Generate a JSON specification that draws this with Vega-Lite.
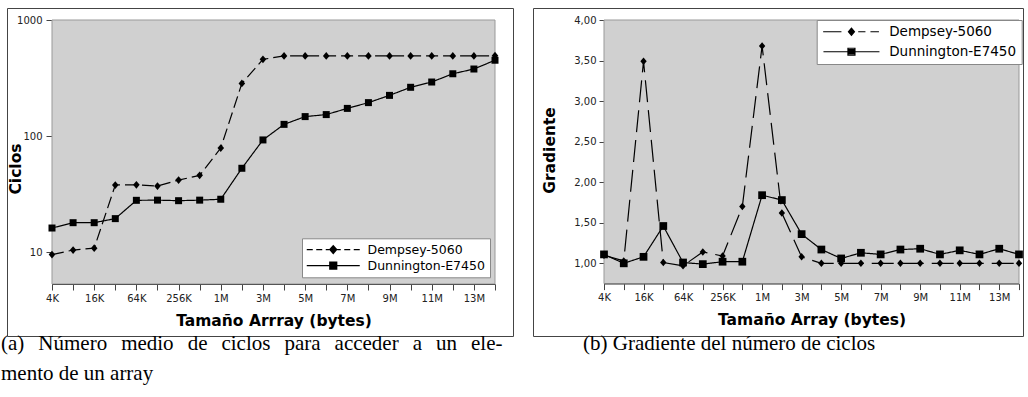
{
  "$schema": "https://vega.github.io/schema/vega-lite/v6.json",
  "background": "white",
  "padding": {"left": 0, "top": 7, "right": 0, "bottom": 0},
  "bounds": "flush",
  "spacing": 20,
  "resolve": {"scale": {"shape": "independent"}, "legend": {"shape": "independent"}},
  "config": {
    "view": {"stroke": "#444", "strokeWidth": 1, "fill": "white"},
    "axis": {
      "grid": false,
      "labelFont": "DejaVu Sans",
      "labelFontSize": 10,
      "labelColor": "#222",
      "tickColor": "#444",
      "domainColor": "#555",
      "titleFont": "DejaVu Sans",
      "titleFontWeight": "bold",
      "titleFontSize": 15.5,
      "titleColor": "black"
    },
    "legend": {"labelFont": "DejaVu Sans", "labelFontSize": 12.5, "labelColor": "black", "symbolStrokeColor": "black", "symbolStrokeWidth": 1.2, "symbolOpacity": 1},
    "title": {"font": "Liberation Serif", "fontSize": 21, "fontWeight": "normal", "color": "black"}
  },
  "datasets": {
    "ciclos": [
      {"size": "4K", "serie": "Dempsey-5060", "v": 9.5},
      {"size": "8K", "serie": "Dempsey-5060", "v": 10.4},
      {"size": "16K", "serie": "Dempsey-5060", "v": 10.8},
      {"size": "32K", "serie": "Dempsey-5060", "v": 37.8},
      {"size": "64K", "serie": "Dempsey-5060", "v": 38},
      {"size": "128K", "serie": "Dempsey-5060", "v": 37},
      {"size": "256K", "serie": "Dempsey-5060", "v": 41.7},
      {"size": "512K", "serie": "Dempsey-5060", "v": 45.8},
      {"size": "1M", "serie": "Dempsey-5060", "v": 78.8},
      {"size": "2M", "serie": "Dempsey-5060", "v": 284},
      {"size": "3M", "serie": "Dempsey-5060", "v": 458},
      {"size": "4M", "serie": "Dempsey-5060", "v": 490},
      {"size": "5M", "serie": "Dempsey-5060", "v": 490},
      {"size": "6M", "serie": "Dempsey-5060", "v": 490},
      {"size": "7M", "serie": "Dempsey-5060", "v": 490},
      {"size": "8M", "serie": "Dempsey-5060", "v": 490},
      {"size": "9M", "serie": "Dempsey-5060", "v": 490},
      {"size": "10M", "serie": "Dempsey-5060", "v": 490},
      {"size": "11M", "serie": "Dempsey-5060", "v": 490},
      {"size": "12M", "serie": "Dempsey-5060", "v": 490},
      {"size": "13M", "serie": "Dempsey-5060", "v": 490},
      {"size": "14M", "serie": "Dempsey-5060", "v": 492},
      {"size": "4K", "serie": "Dunnington-E7450", "v": 16.1},
      {"size": "8K", "serie": "Dunnington-E7450", "v": 17.9},
      {"size": "16K", "serie": "Dunnington-E7450", "v": 17.9},
      {"size": "32K", "serie": "Dunnington-E7450", "v": 19.4},
      {"size": "64K", "serie": "Dunnington-E7450", "v": 27.9},
      {"size": "128K", "serie": "Dunnington-E7450", "v": 28},
      {"size": "256K", "serie": "Dunnington-E7450", "v": 27.7},
      {"size": "512K", "serie": "Dunnington-E7450", "v": 28},
      {"size": "1M", "serie": "Dunnington-E7450", "v": 28.5},
      {"size": "2M", "serie": "Dunnington-E7450", "v": 52.7},
      {"size": "3M", "serie": "Dunnington-E7450", "v": 92.5},
      {"size": "4M", "serie": "Dunnington-E7450", "v": 126},
      {"size": "5M", "serie": "Dunnington-E7450", "v": 147},
      {"size": "6M", "serie": "Dunnington-E7450", "v": 153},
      {"size": "7M", "serie": "Dunnington-E7450", "v": 173},
      {"size": "8M", "serie": "Dunnington-E7450", "v": 194},
      {"size": "9M", "serie": "Dunnington-E7450", "v": 224},
      {"size": "10M", "serie": "Dunnington-E7450", "v": 263},
      {"size": "11M", "serie": "Dunnington-E7450", "v": 292},
      {"size": "12M", "serie": "Dunnington-E7450", "v": 344},
      {"size": "13M", "serie": "Dunnington-E7450", "v": 378},
      {"size": "14M", "serie": "Dunnington-E7450", "v": 450}
    ],
    "gradiente": [
      {"size": "4K", "serie": "Dempsey-5060", "v": 1.10},
      {"size": "8K", "serie": "Dempsey-5060", "v": 1.03},
      {"size": "16K", "serie": "Dempsey-5060", "v": 3.49},
      {"size": "32K", "serie": "Dempsey-5060", "v": 1.01},
      {"size": "64K", "serie": "Dempsey-5060", "v": 0.97},
      {"size": "128K", "serie": "Dempsey-5060", "v": 1.14},
      {"size": "256K", "serie": "Dempsey-5060", "v": 1.09},
      {"size": "512K", "serie": "Dempsey-5060", "v": 1.70},
      {"size": "1M", "serie": "Dempsey-5060", "v": 3.68},
      {"size": "2M", "serie": "Dempsey-5060", "v": 1.62},
      {"size": "3M", "serie": "Dempsey-5060", "v": 1.08},
      {"size": "4M", "serie": "Dempsey-5060", "v": 1.00},
      {"size": "5M", "serie": "Dempsey-5060", "v": 1.00},
      {"size": "6M", "serie": "Dempsey-5060", "v": 1.00},
      {"size": "7M", "serie": "Dempsey-5060", "v": 1.00},
      {"size": "8M", "serie": "Dempsey-5060", "v": 1.00},
      {"size": "9M", "serie": "Dempsey-5060", "v": 1.00},
      {"size": "10M", "serie": "Dempsey-5060", "v": 1.00},
      {"size": "11M", "serie": "Dempsey-5060", "v": 1.00},
      {"size": "12M", "serie": "Dempsey-5060", "v": 1.00},
      {"size": "13M", "serie": "Dempsey-5060", "v": 1.00},
      {"size": "14M", "serie": "Dempsey-5060", "v": 1.00},
      {"size": "4K", "serie": "Dunnington-E7450", "v": 1.11},
      {"size": "8K", "serie": "Dunnington-E7450", "v": 1.00},
      {"size": "16K", "serie": "Dunnington-E7450", "v": 1.08},
      {"size": "32K", "serie": "Dunnington-E7450", "v": 1.46},
      {"size": "64K", "serie": "Dunnington-E7450", "v": 1.01},
      {"size": "128K", "serie": "Dunnington-E7450", "v": 0.99},
      {"size": "256K", "serie": "Dunnington-E7450", "v": 1.02},
      {"size": "512K", "serie": "Dunnington-E7450", "v": 1.02},
      {"size": "1M", "serie": "Dunnington-E7450", "v": 1.84},
      {"size": "2M", "serie": "Dunnington-E7450", "v": 1.78},
      {"size": "3M", "serie": "Dunnington-E7450", "v": 1.36},
      {"size": "4M", "serie": "Dunnington-E7450", "v": 1.17},
      {"size": "5M", "serie": "Dunnington-E7450", "v": 1.06},
      {"size": "6M", "serie": "Dunnington-E7450", "v": 1.13},
      {"size": "7M", "serie": "Dunnington-E7450", "v": 1.11},
      {"size": "8M", "serie": "Dunnington-E7450", "v": 1.17},
      {"size": "9M", "serie": "Dunnington-E7450", "v": 1.18},
      {"size": "10M", "serie": "Dunnington-E7450", "v": 1.11},
      {"size": "11M", "serie": "Dunnington-E7450", "v": 1.16},
      {"size": "12M", "serie": "Dunnington-E7450", "v": 1.11},
      {"size": "13M", "serie": "Dunnington-E7450", "v": 1.18},
      {"size": "14M", "serie": "Dunnington-E7450", "v": 1.11}
    ]
  },
  "hconcat": [
    {
      "width": 506,
      "height": 328,
      "title": {
        "text": ["(a)\u2004\u2004Número\u2004\u2004medio\u2004\u2004de\u2004\u2004ciclos\u2004\u2004para\u2004\u2004acceder\u2004\u2004a\u2004\u2004un\u2004\u2004ele-", "mento de un array"],
        "orient": "bottom",
        "anchor": "start",
        "frame": "bounds",
        "lineHeight": 30,
        "offset": -3,
        "dx": -6
      },
      "layer": [
        {
          "data": {"values": [{"size": "4K", "size2": "14M", "v": 5.3, "v2": 1000}]},
          "mark": {"type": "rect", "fill": "#d0d0d0", "stroke": "#999", "strokeWidth": 1},
          "encoding": {
            "x": {
              "field": "size", "type": "ordinal",
              "scale": {"type": "point", "domain": ["4K","8K","16K","32K","64K","128K","256K","512K","1M","2M","3M","4M","5M","6M","7M","8M","9M","10M","11M","12M","13M","14M"], "range": [45, 488], "padding": 0},
              "axis": {
                "title": "Tamaño Arrray (bytes)", "orient": "bottom", "offset": -52,
                "tickSize": 6, "labelPadding": 3, "titlePadding": 10, "labelAngle": 0, "labelOverlap": false,
                "labelExpr": "indexof(['4K','16K','64K','256K','1M','3M','5M','7M','9M','11M','13M'], datum.value) >= 0 ? datum.label : ''"
              }
            },
            "x2": {"field": "size2"},
            "y": {
              "field": "v", "type": "quantitative",
              "scale": {"type": "log", "domain": [5.3, 1000], "range": [276, 12], "nice": false},
              "axis": {
                "title": "Ciclos", "orient": "left", "offset": -45, "values": [10, 100, 1000], "format": "d",
                "tickSize": 6, "labelPadding": 4,
                "titleX": -31.5, "titleY": 160.5, "titleBaseline": "alphabetic", "titleAngle": 270, "titleAlign": "center"
              }
            },
            "y2": {"field": "v2"}
          }
        },
        {
          "data": {"name": "ciclos"},
          "mark": {"type": "line", "color": "black", "strokeWidth": 1.2},
          "encoding": {
            "x": {"field": "size", "type": "ordinal"},
            "y": {"field": "v", "type": "quantitative"},
            "detail": {"field": "serie"},
            "strokeDash": {"condition": {"test": "datum.serie === 'Dempsey-5060'", "value": [12, 5]}, "value": [1, 0]}
          }
        },
        {
          "data": {"name": "ciclos"},
          "mark": {"type": "point", "filled": true, "color": "black", "opacity": 1, "strokeWidth": 0},
          "encoding": {
            "x": {"field": "size", "type": "ordinal"},
            "y": {"field": "v", "type": "quantitative"},
            "size": {"condition": {"test": "datum.serie === 'Dempsey-5060'", "value": 60}, "value": 49},
            "shape": {"condition": {"test": "datum.serie === 'Dempsey-5060'", "value": "M0,-1L0.85,0L0,1L-0.85,0Z"}, "value": "square"}
          }
        },
        {
          "data": {"name": "ciclos"},
          "mark": {"type": "point", "filled": false, "color": "black", "opacity": 0, "size": 1, "strokeWidth": 1.2},
          "encoding": {
            "x": {"field": "size", "type": "ordinal"},
            "y": {"field": "v", "type": "quantitative"},
            "shape": {
              "field": "serie", "type": "nominal",
              "scale": {"domain": ["Dempsey-5060", "Dunnington-E7450"], "range": [
                "M-5.3,0L-4.1,0M-3.4,0L-2.2,0M-1.5,0L-0.8,0M0.8,0L1.5,0M2.2,0L3.4,0M4.1,0L5.3,0M0,-0.8L0.7,0L0,0.8L-0.7,0ZM0,-0.8L0,0.8M-0.2,-0.57L-0.2,0.57M0.2,-0.57L0.2,0.57M-0.4,-0.34L-0.4,0.34M0.4,-0.34L0.4,0.34M-0.55,-0.17L-0.55,0.17M0.55,-0.17L0.55,0.17",
                "M-5.3,0L5.3,0M-0.7,-0.7L0.7,-0.7L0.7,0.7L-0.7,0.7ZM-0.7,-0.45L0.7,-0.45M-0.7,-0.22L0.7,-0.22M-0.7,0.22L0.7,0.22M-0.7,0.45L0.7,0.45"
              ]},
              "legend": {
                "title": null, "orient": "none", "legendX": 295, "legendY": 230.3,
                "fillColor": "white", "strokeColor": "#888", "padding": 5,
                "symbolSize": 100, "symbolOffset": 20, "labelOffset": 28, "rowPadding": 3,
                "symbolStrokeColor": "black", "symbolStrokeWidth": 1.2, "symbolOpacity": 1,
                "labelFontSize": 12.5
              }
            }
          }
        }
      ]
    },
    {
      "width": 490,
      "height": 328,
      "title": {
        "text": "(b) Gradiente del número de ciclos",
        "orient": "bottom",
        "anchor": "start",
        "frame": "bounds",
        "lineHeight": 30,
        "offset": -3,
        "dx": 50
      },
      "layer": [
        {
          "data": {"values": [{"size": "4K", "size2": "14M", "v": 0.75, "v2": 4}]},
          "mark": {"type": "rect", "fill": "#d0d0d0", "stroke": "#999", "strokeWidth": 1},
          "encoding": {
            "x": {
              "field": "size", "type": "ordinal",
              "scale": {"type": "point", "domain": ["4K","8K","16K","32K","64K","128K","256K","512K","1M","2M","3M","4M","5M","6M","7M","8M","9M","10M","11M","12M","13M","14M"], "range": [71, 486], "padding": 0},
              "axis": {
                "title": "Tamaño Array (bytes)", "orient": "bottom", "offset": -52.4,
                "tickSize": 6, "labelPadding": 3, "titlePadding": 10, "labelAngle": 0, "labelOverlap": false,
                "labelExpr": "indexof(['4K','16K','64K','256K','1M','3M','5M','7M','9M','11M','13M'], datum.value) >= 0 ? datum.label : ''"
              }
            },
            "x2": {"field": "size2"},
            "y": {
              "field": "v", "type": "quantitative",
              "scale": {"type": "linear", "domain": [0.75, 4], "range": [275.6, 12], "nice": false, "zero": false},
              "axis": {
                "title": "Gradiente", "orient": "left", "offset": -71, "values": [1, 1.5, 2, 2.5, 3, 3.5, 4],
                "labelExpr": "replace(format(datum.value, '.2f'), '.', ',')",
                "tickSize": 5, "labelPadding": 3,
                "titleX": -49.7, "titleY": 142, "titleBaseline": "alphabetic", "titleAngle": 270, "titleAlign": "center"
              }
            },
            "y2": {"field": "v2"}
          }
        },
        {
          "data": {"name": "gradiente"},
          "mark": {"type": "line", "color": "black", "strokeWidth": 1.2},
          "encoding": {
            "x": {"field": "size", "type": "ordinal"},
            "y": {"field": "v", "type": "quantitative"},
            "detail": {"field": "serie"},
            "strokeDash": {"condition": {"test": "datum.serie === 'Dempsey-5060'", "value": [22, 8]}, "value": [1, 0]}
          }
        },
        {
          "data": {"name": "gradiente"},
          "mark": {"type": "point", "filled": true, "color": "black", "opacity": 1, "strokeWidth": 0},
          "encoding": {
            "x": {"field": "size", "type": "ordinal"},
            "y": {"field": "v", "type": "quantitative"},
            "size": {"condition": {"test": "datum.serie === 'Dempsey-5060'", "value": 56}, "value": 60},
            "shape": {"condition": {"test": "datum.serie === 'Dempsey-5060'", "value": "M0,-1L0.85,0L0,1L-0.85,0Z"}, "value": "square"}
          }
        },
        {
          "data": {"name": "gradiente"},
          "mark": {"type": "point", "filled": false, "color": "black", "opacity": 0, "size": 1, "strokeWidth": 1.2},
          "encoding": {
            "x": {"field": "size", "type": "ordinal"},
            "y": {"field": "v", "type": "quantitative"},
            "shape": {
              "field": "serie", "type": "nominal",
              "scale": {"domain": ["Dempsey-5060", "Dunnington-E7450"], "range": [
                "M-5.66,0L-2,0M1.35,0L2.8,0M3.8,0L5.5,0M0,-0.7L0.6,0L0,0.7L-0.6,0ZM0,-0.7L0,0.7M-0.2,-0.47L-0.2,0.47M0.2,-0.47L0.2,0.47M-0.4,-0.23L-0.4,0.23M0.4,-0.23L0.4,0.23",
                "M-5.6,0L5.6,0M-0.7,-0.7L0.7,-0.7L0.7,0.7L-0.7,0.7ZM-0.7,-0.45L0.7,-0.45M-0.7,-0.22L0.7,-0.22M-0.7,0.22L0.7,0.22M-0.7,0.45L0.7,0.45"
              ]},
              "legend": {
                "title": null, "orient": "none", "legendX": 283.7, "legendY": 12,
                "fillColor": "white", "strokeColor": "#888", "padding": 5,
                "symbolSize": 100, "symbolOffset": 23, "labelOffset": 31, "rowPadding": 5,
                "symbolStrokeColor": "black", "symbolStrokeWidth": 1.2, "symbolOpacity": 1,
                "labelFontSize": 13.5
              }
            }
          }
        }
      ]
    }
  ]
}
